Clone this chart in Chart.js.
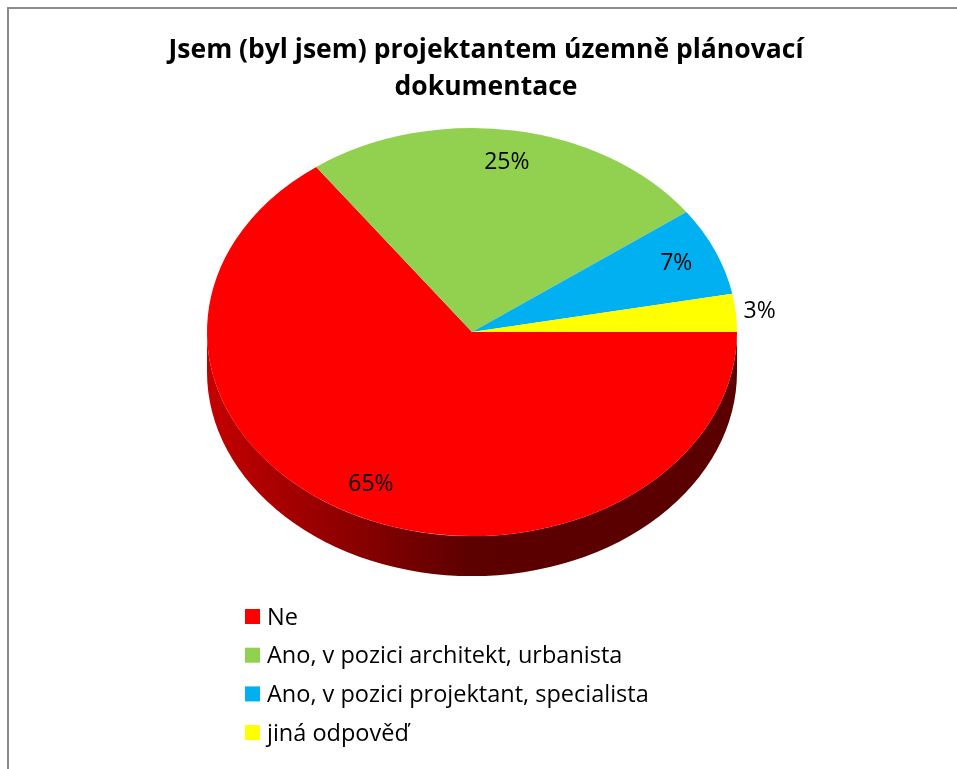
<!DOCTYPE html>
<html>
    <head>
        <meta charset="utf-8">
        <style>
            body { margin: 0; background: #fff; }
            #wrap { width: 957px; height: 769px; }
        </style>
    </head>
    <body>
        <script src="https://cdn.jsdelivr.net/npm/chart.js@4.4.0/dist/chart.umd.min.js"></script>
        <div id="wrap"><canvas id="piechart" width="957" height="769"></canvas></div>
        <script>
            var titleLines = ["Jsem (byl jsem) projektantem územně plánovací", "dokumentace"];
            var answers = ["Ne", "Ano, v pozici architekt, urbanista", "Ano, v pozici projektant, specialista", "jiná odpověď"];
            var shares = [65, 25, 7, 3];
            var colours = ["#ff0000", "#92d050", "#00b0f0", "#ffff00"];

            // where the squashed "3D" pie sits on the page
            var pieX = 472, pieY = 332, tilt = 0.77, depth = 40;

            function toScreen(chart, x, y) {
                var a = chart.chartArea;
                var cx = (a.left + a.right) / 2, cy = (a.top + a.bottom) / 2;
                return [pieX + (x - cx), pieY + tilt * (y - cy)];
            }

            var pie3d = {
                id: "pie3d",
                beforeDraw: function(chart) {
                    var ctx = chart.ctx;
                    ctx.save();
                    ctx.fillStyle = "#fff";
                    ctx.fillRect(0, 0, chart.width, chart.height);
                    ctx.strokeStyle = "#8c8c8c";
                    ctx.lineWidth = 2;
                    ctx.strokeRect(8, 8, chart.width + 50, chart.height + 50);
                    ctx.restore();
                },
                beforeDatasetsDraw: function(chart) {
                    var ctx = chart.ctx;
                    var a = chart.chartArea;
                    var cx = (a.left + a.right) / 2, cy = (a.top + a.bottom) / 2;
                    ctx.save();
                    ctx.translate(pieX, pieY);
                    ctx.scale(1, tilt);
                    ctx.translate(-cx, -cy);
                    // side wall of the slices facing us
                    var arcs = chart.getDatasetMeta(0).data;
                    var d = depth / tilt;
                    var grad = ctx.createLinearGradient(cx - 265, 0, cx + 265, 0);
                    grad.addColorStop(0, "#c40000");
                    grad.addColorStop(0.5, "#5c0000");
                    grad.addColorStop(1, "#5a0000");
                    arcs.forEach(function(arc) {
                        var s = Math.max(arc.startAngle, 0);
                        var e = Math.min(arc.endAngle, Math.PI);
                        if (e <= s) return;
                        ctx.beginPath();
                        ctx.arc(arc.x, arc.y, arc.outerRadius, s, e);
                        ctx.arc(arc.x, arc.y + d, arc.outerRadius, e, s, true);
                        ctx.closePath();
                        ctx.fillStyle = grad;
                        ctx.fill();
                    });
                },
                afterDatasetsDraw: function(chart) {
                    var ctx = chart.ctx;
                    ctx.restore();
                    // percentage labels
                    var arcs = chart.getDatasetMeta(0).data;
                    ctx.save();
                    ctx.fillStyle = "#000";
                    ctx.font = "23px 'Open Sans'";
                    ctx.textAlign = "center";
                    ctx.textBaseline = "middle";
                    arcs.forEach(function(arc, i) {
                        var mid = (arc.startAngle + arc.endAngle) / 2;
                        var f = shares[i] < 5 ? 1.09 : 0.84;
                        var p = toScreen(chart, arc.x + Math.cos(mid) * arc.outerRadius * f, arc.y + Math.sin(mid) * arc.outerRadius * f);
                        ctx.fillText(shares[i] + "%", p[0], p[1]);
                    });
                    // legend
                    ctx.textAlign = "left";
                    ctx.font = "23.5px 'Open Sans'";
                    answers.forEach(function(label, i) {
                        var y = 617 + i * 38.7;
                        ctx.fillStyle = colours[i];
                        ctx.fillRect(245, y - 8, 15, 15);
                        ctx.fillStyle = "#000";
                        ctx.fillText(label, 267, y + 1);
                    });
                    ctx.restore();
                }
            };

            var chart = new Chart(document.getElementById("piechart"), {
                type: "pie",
                data: {
                    labels: answers,
                    datasets: [{
                        data: shares,
                        backgroundColor: colours,
                        borderWidth: 0,
                        radius: 265
                    }]
                },
                options: {
                    responsive: false,
                    animation: false,
                    events: [],
                    rotation: 90,
                    layout: { padding: { left: 28, right: 13, top: 0, bottom: 215 } },
                    plugins: {
                        legend: { display: false },
                        tooltip: { enabled: false },
                        title: {
                            display: true,
                            text: titleLines,
                            color: "#000",
                            font: { family: "'Open Sans'", size: 26.5, weight: "bold", lineHeight: 1.4 },
                            padding: { top: 32, bottom: 0 }
                        }
                    }
                },
                plugins: [pie3d]
            });
        </script>
    </body>
</html>
